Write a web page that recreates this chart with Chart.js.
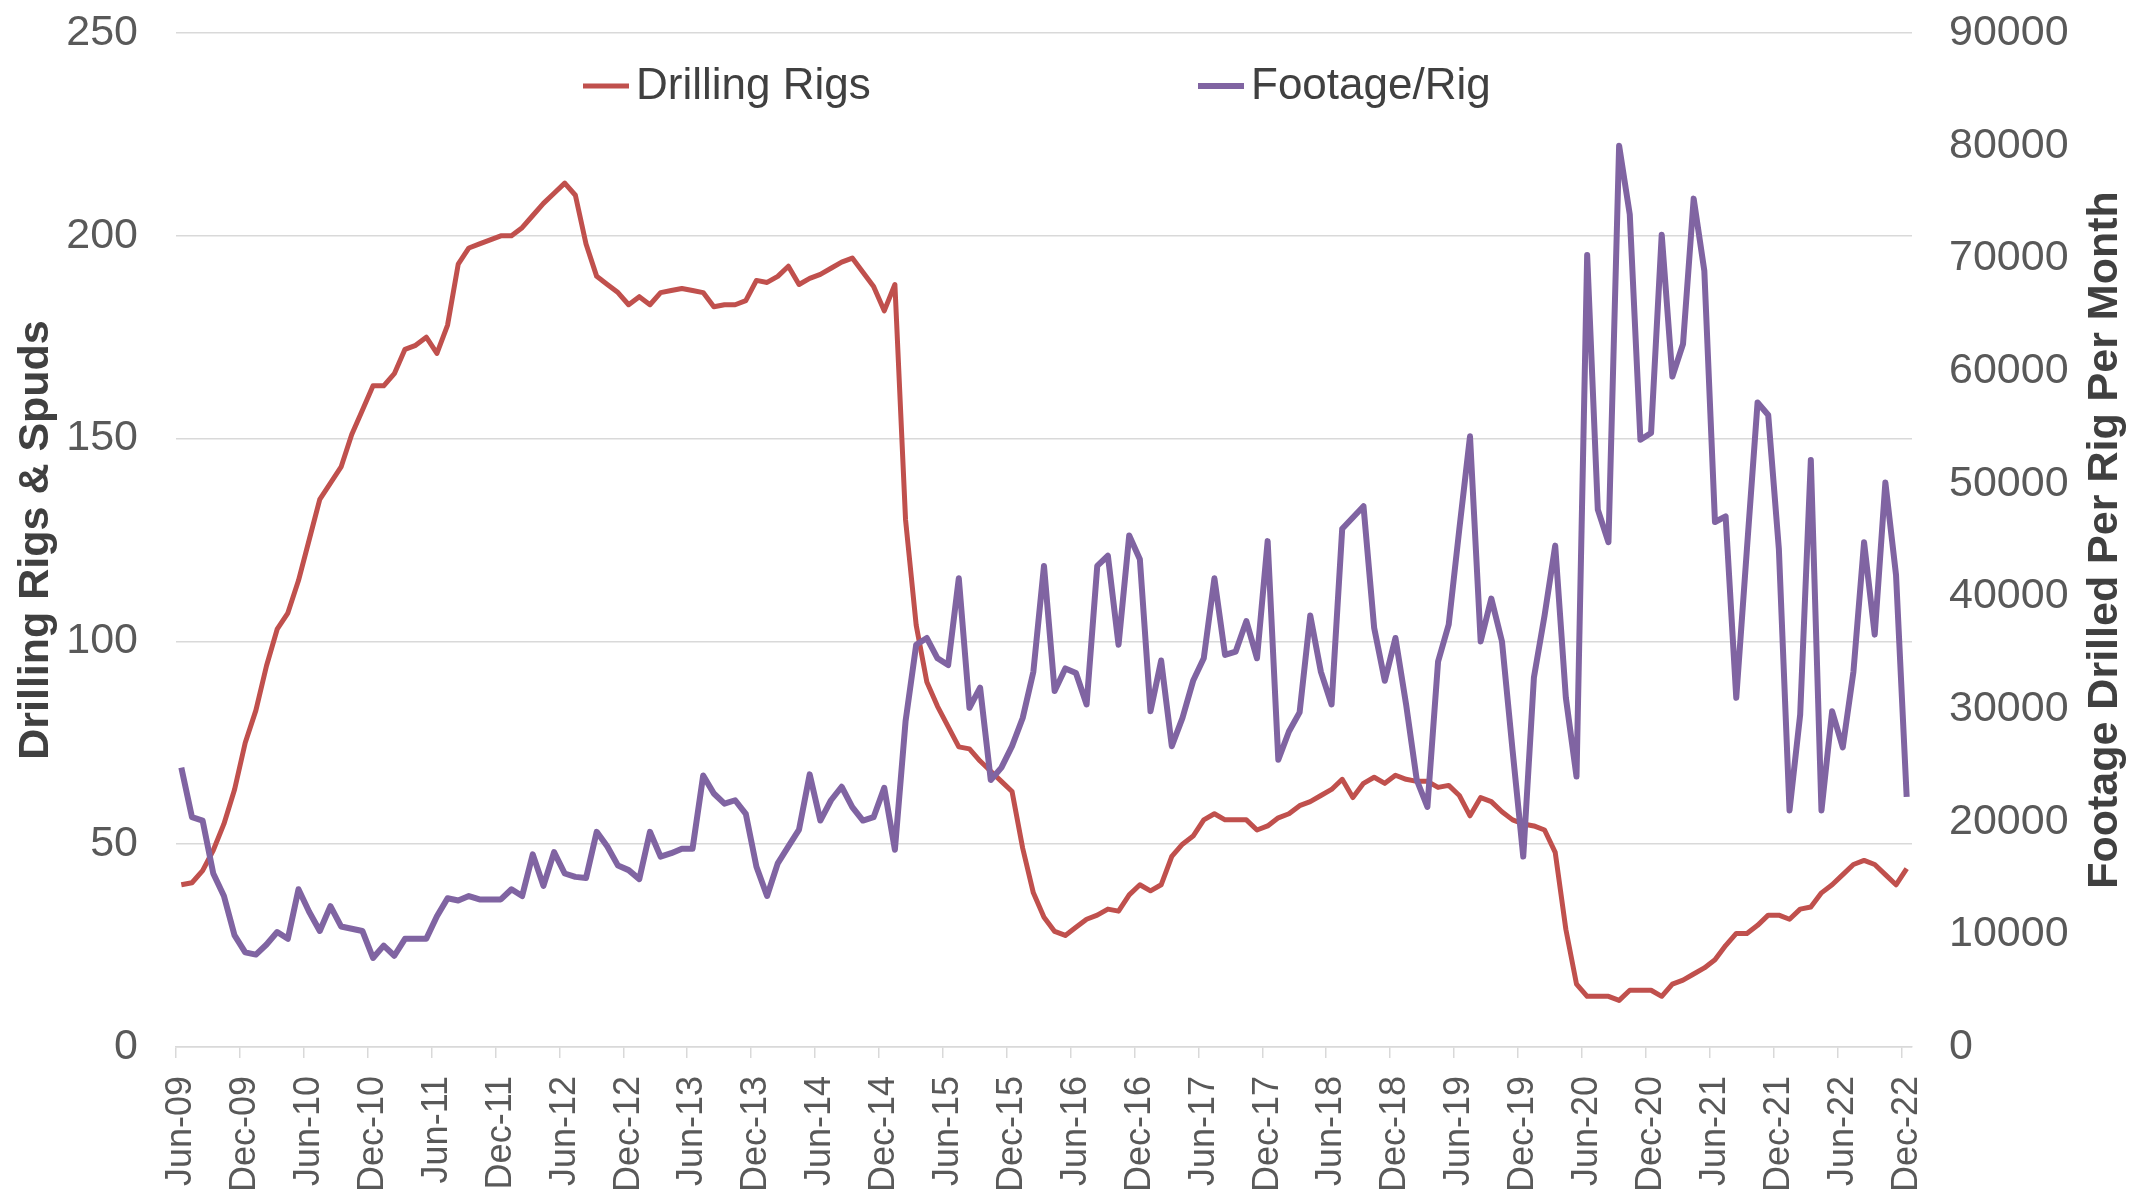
<!DOCTYPE html>
<html>
<head>
<meta charset="utf-8">
<script src="https://cdn.jsdelivr.net/npm/chart.js@4.4.1/dist/chart.umd.min.js"></script>
<style>
  html, body { margin: 0; padding: 0; background: #ffffff; }
  #wrap { width: 2134px; height: 1201px; position: relative; }
</style>
</head>
<body>
<div id="wrap"><canvas id="c" width="2134" height="1201"></canvas></div>
<script>
// ---- Data (monthly, Jun-09 .. Dec-22) ----
const MONTH_NAMES = ['Jan','Feb','Mar','Apr','May','Jun','Jul','Aug','Sep','Oct','Nov','Dec'];
const START_YEAR = 2009;
const START_MONTH = 5; // June

const tickLabels = ['Jun-09','Dec-09','Jun-10','Dec-10','Jun-11','Dec-11','Jun-12','Dec-12',
  'Jun-13','Dec-13','Jun-14','Dec-14','Jun-15','Dec-15','Jun-16','Dec-16','Jun-17','Dec-17',
  'Jun-18','Dec-18','Jun-19','Dec-19','Jun-20','Dec-20','Jun-21','Dec-21','Jun-22','Dec-22'];

const drillingRigs = [
  40, 40.5, 43.5, 48.5, 55, 63.5, 75, 83, 94, 103, 107, 115,
  125, 135, 139, 143, 151, 157, 163, 163, 166, 172, 173, 175,
  171, 178, 193, 197, 198, 199, 200, 200, 202, 205, 208, 210.5,
  213, 210, 198, 190, 188, 186, 183, 185, 183, 186, 186.5, 187,
  186.5, 186, 182.5, 183, 183, 184, 189, 188.5, 190, 192.5, 188, 189.5,
  190.5, 192, 193.5, 194.5, 191, 187.5, 181.5, 188, 130, 104, 90, 84,
  79, 74, 73.5, 70.5, 68, 65.5, 63, 49, 38, 32, 28.5, 27.5,
  29.5, 31.5, 32.5, 34, 33.5, 37.5, 40, 38.5, 40, 47, 50, 52,
  56, 57.5, 56, 56, 56, 53.5, 54.5, 56.5, 57.5, 59.5, 60.5, 62,
  63.5, 66, 61.5, 65, 66.5, 65, 67, 66, 65.5, 65.5, 64, 64.5,
  62, 57, 61.5, 60.5, 58, 56, 55, 54.5, 53.5, 48, 29, 15.5,
  12.5, 12.5, 12.5, 11.5, 14, 14, 14, 12.5, 15.5, 16.5, 18, 19.5,
  21.5, 25, 28, 28, 30, 32.5, 32.5, 31.5, 34, 34.5, 38, 40,
  42.5, 45, 46, 45, 42.5, 40, 44
];

const footagePerRig = [
  24800, 20400, 20100, 15400, 13400, 9900, 8400, 8200, 9100, 10200, 9600, 14000,
  12000, 10300, 12500, 10700, 10500, 10300, 7900, 9000, 8100, 9600, 9600, 9600,
  11600, 13200, 13000, 13400, 13100, 13100, 13100, 14000, 13400, 17100, 14300, 17300,
  15400, 15100, 15000, 19100, 17800, 16100, 15700, 14900, 19100, 16900, 17200, 17600,
  17600, 24100, 22500, 21600, 21900, 20700, 16000, 13400, 16300, 17800, 19300, 24200,
  20100, 21900, 23100, 21300, 20100, 20400, 23000, 17500, 28900, 35700, 36300, 34500,
  33900, 41600, 30100, 31900, 23700, 24800, 26700, 29200, 33300, 42700, 31600, 33600,
  33200, 30400, 42700, 43600, 35700, 45400, 43300, 29800, 34300, 26700, 29200, 32500,
  34500, 41600, 34800, 35100, 37800, 34500, 44900, 25500, 28000, 29700, 38300, 33300,
  30400, 46000, 47000, 48000, 37200, 32500, 36300, 30400, 23700, 21300, 34200, 37500,
  46000, 54200, 36000, 39800, 36000, 26300, 16900, 32800, 38300, 44500, 31000, 24000,
  70300, 47700, 44800, 80000, 73900, 53900, 54500, 72100, 59500, 62400, 75300, 68900,
  46600, 47100, 31000, 44200, 57200, 56100, 44200, 21000, 29500, 52100, 21000, 29800,
  26600, 33300, 44800, 36600, 50100, 41900, 22200
];

const seriesNames = ['Drilling Rigs', 'Footage/Rig'];
const axisTitles = ['Drilling Rigs & Spuds', 'Footage Drilled Per Rig Per Month'];

// Category labels (one per month)
const categories = drillingRigs.map((_, i) => {
  const m = (START_MONTH + i) % 12;
  const y = START_YEAR + Math.floor((START_MONTH + i) / 12);
  return MONTH_NAMES[m] + '-' + String(y % 100).padStart(2, '0');
});

const FONT = '"Liberation Sans", Arial, Helvetica, sans-serif';
const GRID = '#d9d9d9';
const TICK_COLOR = '#595959';
const TITLE_COLOR = '#404040';
const CLEAR = 'rgba(0,0,0,0)';

const insideLegend = {
  id: 'insideLegend',
  afterDraw(chart) {
    const { ctx, chartArea } = chart;
    const y = chartArea.top + 53;
    const items = [
      { ds: 0, x: chartArea.left + 407 },
      { ds: 1, x: chartArea.left + 1022 }
    ];
    ctx.save();
    ctx.font = '44px ' + FONT;
    ctx.textBaseline = 'middle';
    ctx.textAlign = 'left';
    items.forEach(it => {
      const ds = chart.data.datasets[it.ds];
      ctx.strokeStyle = ds.borderColor;
      ctx.lineWidth = ds.borderWidth;
      ctx.lineCap = 'butt';
      ctx.beginPath();
      ctx.moveTo(it.x, y);
      ctx.lineTo(it.x + 46, y);
      ctx.stroke();
      ctx.fillStyle = TITLE_COLOR;
      ctx.fillText(ds.label, it.x + 53, y + 1);
    });
    ctx.restore();
  }
};

const rightTitle = {
  id: 'rightTitle',
  afterDraw(chart) {
    const { ctx, chartArea } = chart;
    const cy = (chartArea.top + chartArea.bottom) / 2;
    ctx.save();
    ctx.translate(2105, cy);
    ctx.rotate(-Math.PI / 2);
    ctx.font = 'bold 43px ' + FONT;
    ctx.fillStyle = TITLE_COLOR;
    ctx.textAlign = 'center';
    ctx.textBaseline = 'middle';
    ctx.fillText(axisTitles[1], 0, 0);
    ctx.restore();
  }
};

new Chart(document.getElementById('c'), {
  type: 'line',
  data: {
    labels: categories,
    datasets: [
      {
        label: seriesNames[0],
        data: drillingRigs,
        yAxisID: 'y',
        borderColor: '#C0504D',
        backgroundColor: '#C0504D',
        borderWidth: 5,
        pointRadius: 0,
        tension: 0,
        borderJoinStyle: 'round',
        order: 1
      },
      {
        label: seriesNames[1],
        data: footagePerRig,
        yAxisID: 'y2',
        borderColor: '#8064A2',
        backgroundColor: '#8064A2',
        borderWidth: 6,
        pointRadius: 0,
        tension: 0,
        borderJoinStyle: 'round',
        order: 0
      }
    ]
  },
  options: {
    responsive: false,
    animation: false,
    devicePixelRatio: 1,
    layout: { padding: { top: 33, left: 0, right: 0, bottom: 0 } },
    plugins: {
      legend: { display: false },
      tooltip: { enabled: false }
    },
    scales: {
      x: {
        type: 'category',
        offset: true,
        grid: {
          offset: true,
          drawOnChartArea: false,
          drawTicks: true,
          tickLength: 11,
          lineWidth: 1.5,
          color: ctx => (ctx.index % 6 === 0 ? GRID : CLEAR)
        },
        border: { display: true, color: GRID, width: 1.5 },
        ticks: {
          autoSkip: false,
          minRotation: 90,
          maxRotation: 90,
          padding: 18,
          color: TICK_COLOR,
          font: { family: FONT, size: 36 },
          callback: (v, i) => (i % 6 === 0 ? tickLabels[i / 6] : '')
        },
        afterFit: s => { s.height = 154; }
      },
      y: {
        position: 'left',
        min: 0,
        max: 250,
        ticks: {
          stepSize: 50,
          padding: 5,
          color: TICK_COLOR,
          font: { family: FONT, size: 43 }
        },
        grid: { color: GRID, lineWidth: 1.5, drawTicks: true, tickLength: 33, tickColor: CLEAR },
        border: { display: false },
        title: {
          display: true,
          text: axisTitles[0],
          color: TITLE_COLOR,
          font: { family: FONT, size: 43, weight: 'bold' },
          padding: { top: 10, bottom: 0 }
        },
        afterFit: s => { s.width = 176; }
      },
      y2: {
        position: 'right',
        min: 0,
        max: 90000,
        ticks: {
          stepSize: 10000,
          padding: 5,
          color: TICK_COLOR,
          font: { family: FONT, size: 43 },
          callback: v => String(v)
        },
        grid: { drawOnChartArea: false, drawTicks: true, tickLength: 32, tickColor: CLEAR },
        border: { display: false },
        afterFit: s => { s.width = 222; }
      }
    }
  },
  plugins: [insideLegend, rightTitle]
});
</script>
</body>
</html>
